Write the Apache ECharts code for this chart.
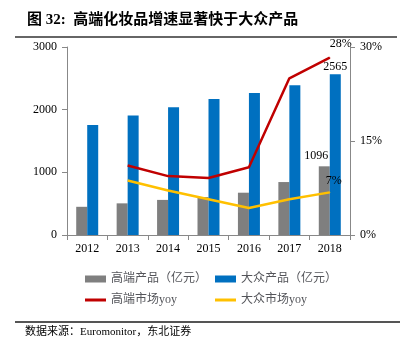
<!DOCTYPE html>
<html><head><meta charset="utf-8">
<script src="https://cdn.jsdelivr.net/npm/echarts@6/dist/echarts.min.js"></script>
<style>html,body{margin:0;padding:0;background:#fff}#c{width:415px;height:344px}</style>
</head><body><div id="c"></div>
<script>
const years = ['2012','2013','2014','2015','2016','2017','2018'];
const highEnd = [450, 505, 560, 605, 675, 845, 1096];
const mass = [1755, 1905, 2040, 2170, 2265, 2390, 2565];
const highYoy = [null, 11.1, 9.4, 9.1, 10.8, 25.0, 28.3];
const massYoy = [null, 8.7, 7.1, 5.7, 4.3, 5.7, 6.8];
const leftTicks = [0, 1000, 2000, 3000];
const rightTicks = [0, 15, 30];

const F = "'Liberation Serif','Noto Sans CJK SC',serif";
const chart = echarts.init(document.getElementById('c'));
const last = years.length - 1;
chart.setOption({
  animation: false,
  textStyle: {fontFamily: F, color: '#000'},
  graphic: [
    {type: 'text', left: 27, top: 13, style: {text: '图 32:  高端化妆品增速显著快于大众产品', font: "bold 15px 'Liberation Serif','Noto Sans CJK SC'", fill: '#000'}},
    {type: 'line', shape: {x1: 15, y1: 37, x2: 397, y2: 37}, style: {stroke: '#333', lineWidth: 1.5}},
    {type: 'line', shape: {x1: 15, y1: 322, x2: 400, y2: 322}, style: {stroke: '#555', lineWidth: 2}},
    {type: 'text', left: 25, top: 327, style: {text: '数据来源：Euromonitor，东北证券', font: "11px 'Liberation Serif','Noto Sans CJK SC'", fill: '#000'}}
  ],
  legend: [
    {data: [{name: '高端产品（亿元）', icon: 'rect'}], left: 80, top: 268, itemWidth: 21, itemHeight: 7, itemGap: 2, textStyle: {fontSize: 12, fontFamily: F}},
    {data: [{name: '大众产品（亿元）', icon: 'rect'}], left: 210, top: 268, itemWidth: 21, itemHeight: 7, itemGap: 2, textStyle: {fontSize: 12, fontFamily: F}},
    {data: [{name: '高端市场yoy', icon: 'rect'}], left: 80, top: 289, itemWidth: 21, itemHeight: 3, textStyle: {fontSize: 12, fontFamily: F}},
    {data: [{name: '大众市场yoy', icon: 'rect'}], left: 210, top: 289, itemWidth: 21, itemHeight: 3, textStyle: {fontSize: 12, fontFamily: F}}
  ],
  grid: {left: 67, right: 65, top: 47, bottom: 109},
  xAxis: {
    type: 'category', data: years,
    axisLine: {lineStyle: {color: '#888'}},
    axisTick: {show: true, alignWithLabel: false, length: 5, lineStyle: {color: '#888'}},
    axisLabel: {fontSize: 12, color: '#000', margin: 8, fontFamily: F}
  },
  yAxis: [
    {type: 'value', min: 0, max: 3000, interval: 1000,
     axisLine: {show: true, lineStyle: {color: '#888'}},
     axisTick: {show: true, length: 5, lineStyle: {color: '#888'}},
     splitLine: {show: false},
     axisLabel: {fontSize: 12, color: '#000', margin: 10, fontFamily: F,
       formatter: v => leftTicks.includes(v) ? String(v) : ''}},
    {type: 'value', min: 0, max: 30, interval: 15,
     axisLine: {show: true, lineStyle: {color: '#888'}},
     axisTick: {show: true, length: 5, lineStyle: {color: '#888'}},
     splitLine: {show: false},
     axisLabel: {fontSize: 12, color: '#000', margin: 10, fontFamily: F,
       formatter: v => rightTicks.includes(v) ? v + '%' : ''}}
  ],
  series: [
    {name: '高端产品（亿元）', type: 'bar', barWidth: 11, barGap: '0%', itemStyle: {color: '#7f7f7f'},
     data: highEnd.map((v, i) => i === last ? {value: v, label: {show: true, position: 'top', distance: 4, offset: [-8, 0], fontSize: 12, color: '#000', fontFamily: F}} : v)},
    {name: '大众产品（亿元）', type: 'bar', barWidth: 11, barGap: '0%', itemStyle: {color: '#0070c0'},
     data: mass.map((v, i) => i === last ? {value: v, label: {show: true, position: 'top', distance: 1, offset: [0, 0], fontSize: 12, color: '#000', fontFamily: F}} : v)},
    {name: '高端市场yoy', type: 'line', yAxisIndex: 1, symbol: 'none', lineStyle: {color: '#c00000', width: 2.5}, itemStyle: {color: '#c00000'},
     data: highYoy.map((v, i) => i === last ? {value: v, symbol: 'circle', symbolSize: 1, label: {show: true, position: 'top', offset: [11, -2], fontSize: 12, color: '#000', fontFamily: F, formatter: '28%'}} : v)},
    {name: '大众市场yoy', type: 'line', yAxisIndex: 1, symbol: 'none', lineStyle: {color: '#ffc000', width: 2.5}, itemStyle: {color: '#ffc000'},
     data: massYoy.map((v, i) => i === last ? {value: v, symbol: 'circle', symbolSize: 1, label: {show: true, position: 'top', offset: [4, 0], fontSize: 12, color: '#000', fontFamily: F, formatter: '7%'}} : v)}
  ]
});
</script></body></html>
